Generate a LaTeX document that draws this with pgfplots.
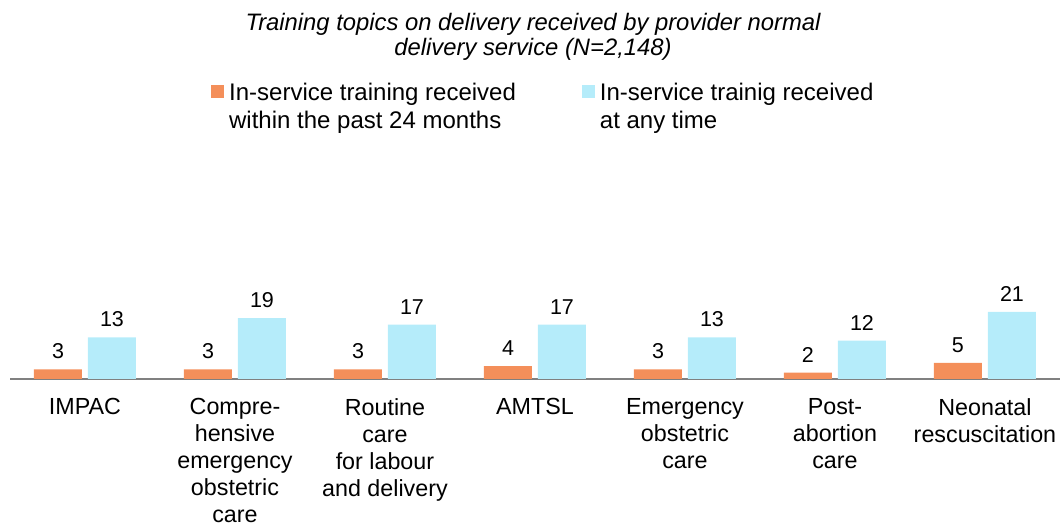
\documentclass[border=0pt]{standalone}
\usepackage{pgfplots}
\pgfplotsset{compat=1.18}
\usepackage{fontspec}
\setmainfont{Liberation Sans}
\definecolor{orng}{RGB}{244,143,90}
\definecolor{lblue}{RGB}{181,236,250}
\definecolor{axgray}{RGB}{128,128,128}
\begin{document}
\begin{tikzpicture}[x=1pt,y=1pt]
\path[use as bounding box] (0,0) rectangle (1061,526);
\node[anchor=north, inner sep=0pt, align=center, font=\fontsize{23.8}{25}\selectfont\itshape] at (533,513) {Training topics on delivery received by provider normal\\delivery service (N=2,148)};
\begin{axis}[
  at={(10pt,147pt)}, anchor=south west, scale only axis,
  width=1050pt, height=320pt,
  xmin=-0.5, xmax=6.5, ymin=0, ymax=100,
  axis y line=none, axis x line*=bottom,
  x axis line style={draw=axgray, line width=1.5pt, -},
  xtick={0,...,6},
  xticklabels={{IMPAC},{Compre-\\hensive\\emergency\\obstetric\\care},{Routine\\care\\for labour\\and delivery},{AMTSL},{Emergency\\obstetric\\care},{Post-\\abortion\\care},{Neonatal\\rescuscitation}},
  major tick length=0pt, xtick style={draw=none},
  xticklabel style={font=\fontsize{23.3}{27}\selectfont, align=center, anchor=north, inner sep=0pt, yshift=-19pt},
  ybar=6pt, bar width=48pt,
  nodes near coords,
  nodes near coords style={font=\fontsize{21.5}{25}\selectfont, anchor=south, inner sep=0pt, yshift=10pt, text=black},
  /pgf/number format/assume math mode=true,
  legend columns=2,
  legend cell align=left,
  legend style={draw=none, fill=none, inner sep=0pt, at={(axis description cs:0.1914,0.942)}, anchor=north west,
    font=\fontsize{24}{28}\selectfont, nodes={inner sep=3pt},
    /tikz/every even column/.append style={column sep=63pt}},
  legend image code/.code={\fill[#1] (0pt,1pt) rectangle (13pt,14pt); \path (15pt,1pt);},
]
\addplot[fill=orng, draw=none] coordinates {(0,3) (1,3) (2,3) (3,4) (4,3) (5,2) (6,5)};
\addplot[fill=lblue, draw=none] coordinates {(0,13) (1,19) (2,17) (3,17) (4,13) (5,12) (6,21)};
\addlegendentry{\begin{tabular}{@{}l@{}}In-service training received\\within the past 24 months\end{tabular}}
\addlegendentry{\begin{tabular}{@{}l@{}}In-service trainig received\\at any time\end{tabular}}
\end{axis}
\end{tikzpicture}
\end{document}
